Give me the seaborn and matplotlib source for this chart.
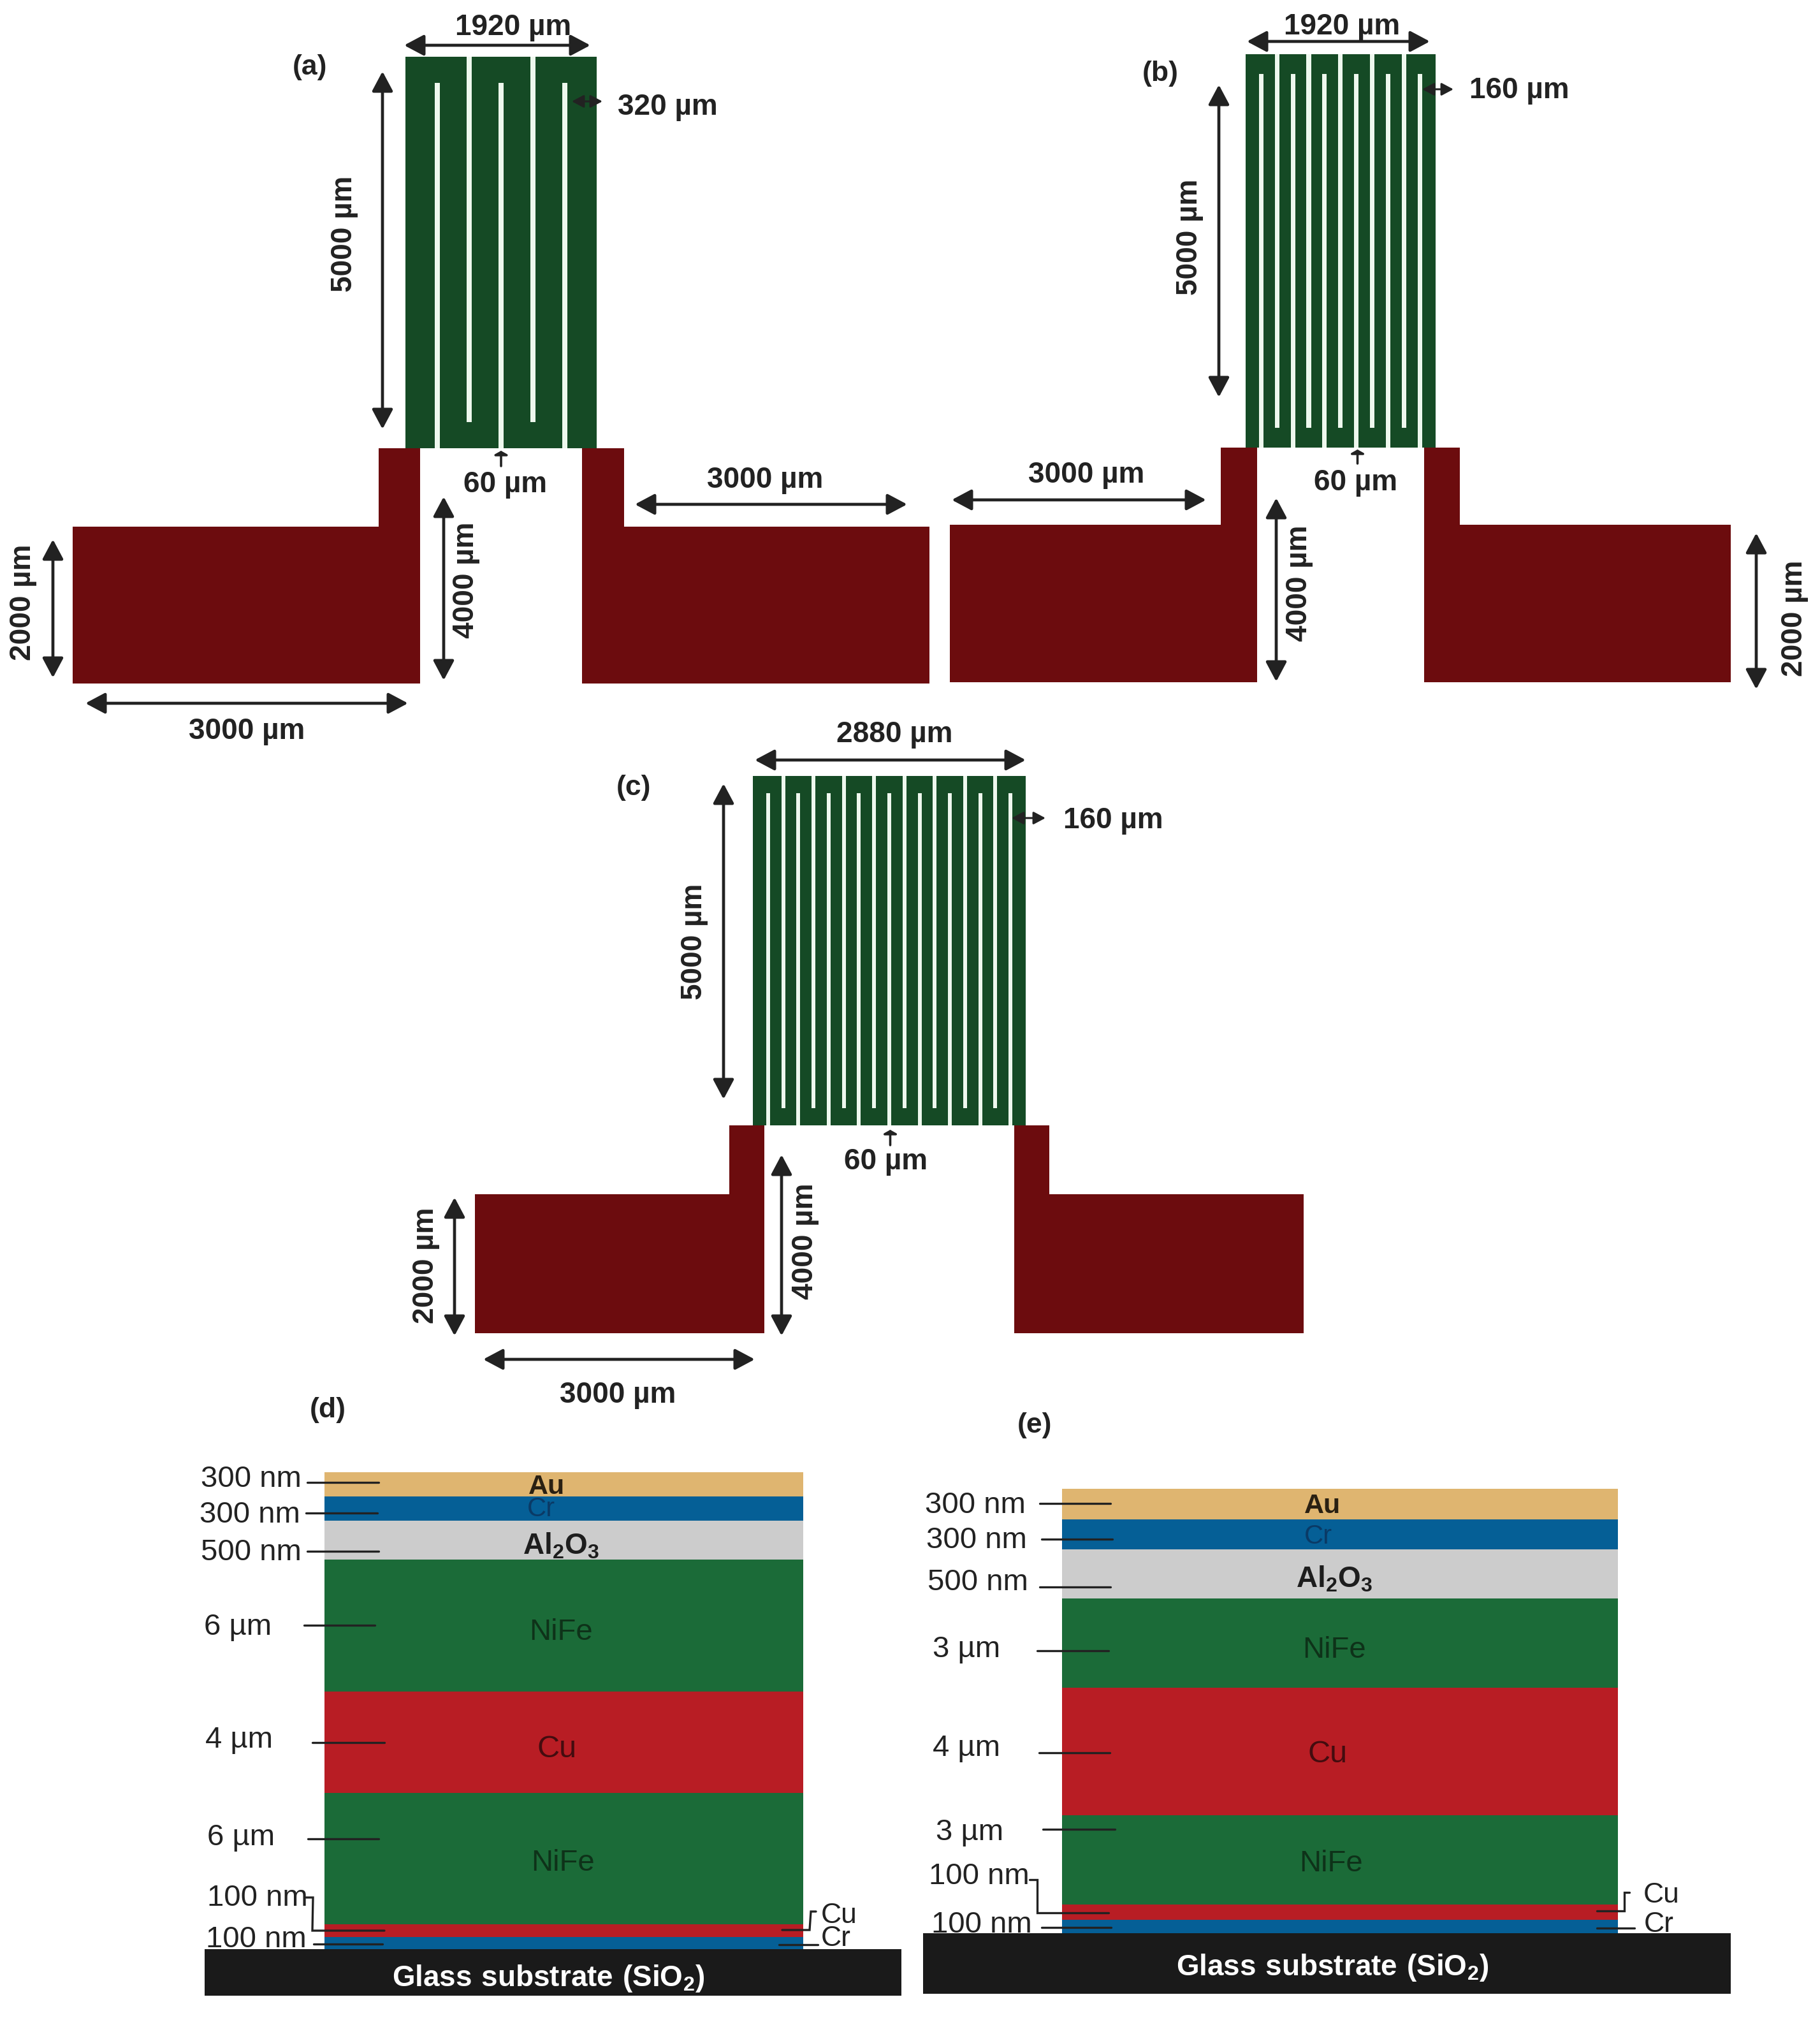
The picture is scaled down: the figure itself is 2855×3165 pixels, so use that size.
"""Meander inductor layouts (a-c) and their layer stacks (d, e)."""

import matplotlib
matplotlib.use("Agg")
import matplotlib.pyplot as plt
from matplotlib.patches import Rectangle
import seaborn as sns

W_PX, H_PX = 2855, 3165
DPI = 100

GREEN = "#154a25"
SLOT = "#eef8ee"
PAD_RED = "#6c0c0e"
INK = "#222222"

# --- data -----------------------------------------------------------------
# meander panels, in micrometres
PANEL_NAMES = ["(a)", "(b)", "(c)"]
MEANDER_WIDTH = [1920, 1920, 2880]
MEANDER_HEIGHT = [5000, 5000, 5000]
TRACE_PITCH = [320, 160, 160]
SLOT_WIDTH = [50, 46, 40]
TURN_MARGIN = [330, 250, 245]
PAD_OUTER = [3341, 2981, 2935]
NECK_OUTER = [272, 246, 246]
NECK_INNER = [150, 117, 123]
PAD_TOP = [-1002, -985, -985]
PAD_BOTTOM = [-3005, -2989, -2974]

# layer stacks, top to bottom; thickness is as drawn, not to scale
LAYER_COLORS = {
    "Au": "#dfb570",
    "Cr": "#055f96",
    "Al2O3": "#cccccc",
    "NiFe": "#1b6b38",
    "Cu": "#b81d24",
}
LAYERS = ["Au", "Cr", "Al2O3", "NiFe", "Cu", "NiFe", "Cu", "Cr"]
DRAWN_D = [38, 38, 61, 207, 159, 206, 19.5, 19.5]
DRAWN_E = [48.5, 46.5, 77.5, 140, 200, 140, 24, 21]
THICK_D = ["300 nm", "300 nm", "500 nm", "6 µm", "4 µm", "6 µm", "100 nm", "100 nm"]
THICK_E = ["300 nm", "300 nm", "500 nm", "3 µm", "4 µm", "3 µm", "100 nm", "100 nm"]

# --- layout, in reference pixels (x, y from top left) --------------------
MEANDER_BOX = [(636, 936, 89, 703), (1953.5, 2252, 85, 701.5), (1181, 1609, 1217, 1765)]
STACK_BOX = [(509, 1260, 2309, 3057), (1666, 2538, 2334.5, 3032)]
GLASS_BOX = [(321, 1414, 3057, 3130), (1448, 2715, 3032, 3127)]

# text, x, y, rotated
DIM_TEXTS = [
    ("1920 µm", 805, 43, False), ("5000 µm", 540, 367, True), ("60 µm", 793, 760, False),
    ("3000 µm", 387, 1147, False), ("2000 µm", 36, 945, True), ("4000 µm", 731, 910, True),
    ("3000 µm", 1200, 753, False),
    ("1920 µm", 2105, 42, False), ("5000 µm", 1866, 372, True), ("60 µm", 2127, 757, False),
    ("3000 µm", 1704, 745, False), ("4000 µm", 2038, 915, True), ("2000 µm", 2815, 970, True),
    ("2880 µm", 1403, 1152, False), ("5000 µm", 1089, 1477, True), ("60 µm", 1390, 1822, False),
    ("4000 µm", 1263, 1947, True), ("2000 µm", 668, 1985, True), ("3000 µm", 969, 2188, False),
]
PITCH_TEXTS = [("320 µm", 969, 168), ("160 µm", 2305, 142), ("160 µm", 1668, 1287)]
PITCH_ARROWS = [(897, 945, 159), (2231, 2280, 140), (1587, 1640, 1283)]
GAP_TICKS = [(786, 707, 731), (2129.5, 705, 727), (1396.5, 1772, 1796)]
PANEL_TEXT_XY = [(486, 105), (1820, 115), (994, 1235), (514, 2212), (1623, 2236)]

# x0, y0, x1, y1
BIG_ARROWS = [
    (634, 71, 926, 71), (600, 112, 600, 673), (134, 1103, 640, 1103), (83, 846, 83, 1063),
    (696, 779, 696, 1067), (996, 791, 1423, 791),
    (1956, 65, 2243, 65), (1912, 133, 1912, 623), (1493, 784, 1892, 784),
    (2002, 781, 2002, 1069), (2755, 836, 2755, 1081),
    (1184, 1192, 1609, 1192), (1135, 1229, 1135, 1724), (1226, 1811, 1226, 2095),
    (713, 1878, 713, 2095), (758, 2132, 1184, 2132),
]

THICK_XY_D = [(315, 2320), (313, 2376), (315, 2435), (320, 2552), (322, 2729), (325, 2882), (325, 2977), (323, 3042)]
THICK_XY_E = [(1451, 2361), (1453, 2416), (1455, 2482), (1463, 2587), (1463, 2742), (1468, 2874), (1457, 2943), (1461, 3019)]
LAYER_XY_D = [(858, 2332), (849, 2367), (880, 2425), (880, 2560), (874, 2743), (883, 2922)]
LAYER_XY_E = [(2075, 2362), (2068, 2410), (2093, 2477), (2093, 2588), (2083, 2752), (2088, 2923)]
LAYER_TEXT_COLORS = ["#2a2012", "#0a3a66", "#1d1d1d", "#0e3219", "#440c0f", "#0e3219"]
LEADERS = [
    [(482, 2325), (594, 2325)], [(480, 2373), (592, 2373)], [(482, 2433), (594, 2433)],
    [(477, 2549), (588, 2549)], [(490, 2733), (603, 2733)], [(483, 2884), (594, 2884)],
    [(480, 2976), (491, 2976), (490, 3028), (603, 3028)], [(492, 3049), (600, 3049)],
    [(1280, 2998), (1272, 2998), (1270, 3027), (1227, 3027)], [(1222, 3050), (1283, 3050)],
    [(1631, 2358), (1742, 2358)], [(1634, 2414), (1745, 2414)], [(1631, 2489), (1742, 2489)],
    [(1627, 2589), (1739, 2589)], [(1630, 2749), (1741, 2749)], [(1636, 2869), (1749, 2869)],
    [(1615, 2948), (1627, 2948), (1627, 3000), (1739, 3000)], [(1634, 3023), (1743, 3023)],
    [(2556, 2968), (2548, 2968), (2548, 2997), (2505, 2997)], [(2505, 3024), (2564, 3024)],
]
SIDE_TEXTS = [("Cu", 1288, 3004), ("Cr", 1288, 3040), ("Cu", 2578, 2972), ("Cr", 2579, 3019)]
GLASS_TEXT_XY = [(860, 3103), (2090, 3086)]


def box_axes(fig, left, right, top, bottom):
    """Axes covering a pixel box given from the top left of the figure."""
    return fig.add_axes(
        [left / W_PX, 1 - bottom / H_PX, (right - left) / W_PX, (bottom - top) / H_PX]
    )


def draw_meander(ax, i):
    width, height = MEANDER_WIDTH[i], MEANDER_HEIGHT[i]
    pitch, margin = TRACE_PITCH[i], TURN_MARGIN[i]
    ax.set_xlim(0, width)
    ax.set_ylim(0, height)
    ax.set_axis_off()

    ax.bar([width / 2], [height], width=width, color=GREEN, linewidth=0)
    centers = list(range(pitch, width, pitch))
    bottoms = [0 if k % 2 == 0 else margin for k in range(len(centers))]
    ax.bar(centers, [height - margin] * len(centers), bottom=bottoms,
           width=SLOT_WIDTH[i], color=SLOT, linewidth=0)

    outer, neck, inner = PAD_OUTER[i], NECK_OUTER[i], NECK_INNER[i]
    top, bottom = PAD_TOP[i], PAD_BOTTOM[i]
    ax.fill([-outer, -neck, -neck, inner, inner, -outer],
            [top, top, 0, 0, bottom, bottom], color=PAD_RED, linewidth=0, clip_on=False)
    ax.fill([width + outer, width + neck, width + neck, width - inner, width - inner, width + outer],
            [top, top, 0, 0, bottom, bottom], color=PAD_RED, linewidth=0, clip_on=False)


def draw_stack(ax, drawn):
    # cumulative bars, the tallest first, so each layer shows on top of the next
    tops = [sum(drawn[k:]) for k in range(len(drawn))]
    for layer, top in zip(LAYERS, tops):
        sns.barplot(x=[0], y=[top], color=LAYER_COLORS[layer], saturation=1, width=1,
                    linewidth=0, ax=ax)
    ax.set_xlim(-0.5, 0.5)
    ax.set_ylim(0, tops[0])
    ax.set_axis_off()


def arrow(ax, x0, y0, x1, y1, scale=20, lw=3.4, style="<|-|>,head_length=0.94,head_width=0.5"):
    ax.annotate("", xy=(x1, y1), xytext=(x0, y0),
                arrowprops=dict(arrowstyle=style, mutation_scale=scale, lw=lw, color=INK,
                                shrinkA=0, shrinkB=0), zorder=6)


sns.set_theme(style="white")
plt.rcParams["font.family"] = ["Liberation Sans", "DejaVu Sans"]
plt.rcParams["mathtext.fontset"] = "custom"
plt.rcParams["mathtext.rm"] = "Liberation Sans"
plt.rcParams["mathtext.bf"] = "Liberation Sans:bold"
plt.rcParams["mathtext.default"] = "regular"

fig = plt.figure(figsize=(W_PX / DPI, H_PX / DPI), dpi=DPI, facecolor="white")

for i in range(len(PANEL_NAMES)):
    left, right, top, bottom = MEANDER_BOX[i]
    draw_meander(box_axes(fig, left, right, top, bottom), i)

for (left, right, top, bottom), drawn in zip(STACK_BOX, [DRAWN_D, DRAWN_E]):
    draw_stack(box_axes(fig, left, right, top, bottom), drawn)

# annotation layer over everything, in reference pixels
over = fig.add_axes([0, 0, 1, 1])
over.set_xlim(0, W_PX)
over.set_ylim(H_PX, 0)
over.set_axis_off()
over.patch.set_alpha(0)

for x0, y0, x1, y1 in BIG_ARROWS:
    arrow(over, x0, y0, x1, y1)
for x0, x1, y in PITCH_ARROWS:
    arrow(over, x0, y, x1, y, scale=12, lw=2.2)
for x, y0, y1 in GAP_TICKS:
    arrow(over, x, y1, x, y0, scale=7, lw=2.6, style="-|>,head_length=0.5,head_width=0.9")

for text, x, y, rotated in DIM_TEXTS:
    over.text(x, y, text, fontsize=33, fontweight="bold", color=INK, ha="center", va="center",
              rotation=90 if rotated else 0)
for text, x, y in PITCH_TEXTS:
    over.text(x, y, text, fontsize=33, fontweight="bold", color=INK, ha="left", va="center")
for name, (x, y) in zip(PANEL_NAMES + ["(d)", "(e)"], PANEL_TEXT_XY):
    over.text(x, y, name, fontsize=32, fontweight="bold", color=INK, ha="center", va="center")

for labels, places in [(THICK_D, THICK_XY_D), (THICK_E, THICK_XY_E)]:
    for text, (x, y) in zip(labels, places):
        over.text(x, y, text, fontsize=34, color=INK, ha="left", va="center", zorder=3)
for points in LEADERS:
    over.plot([p[0] for p in points], [p[1] for p in points], color=INK, lw=2.4, zorder=4,
              solid_joinstyle="miter")
for text, x, y in SIDE_TEXTS:
    over.text(x, y, text, fontsize=32, color=INK, ha="left", va="center", zorder=3)

for places in [LAYER_XY_D, LAYER_XY_E]:
    for layer, (x, y), color in zip(LAYERS, places, LAYER_TEXT_COLORS):
        if layer == "Al2O3":
            over.text(x, y, r"$\mathbf{Al_2O_3}$", fontsize=33, color=color, ha="center", va="center", zorder=5)
        else:
            size = {"Au": 31, "Cr": 30, "Cu": 35}.get(layer, 34)
            weight = "bold" if layer == "Au" else "normal"
            over.text(x, y, layer, fontsize=size, color=color, ha="center", va="center",
                      fontweight=weight, zorder=5)

for (left, right, top, bottom), (x, y) in zip(GLASS_BOX, GLASS_TEXT_XY):
    over.add_patch(Rectangle((left, top), right - left, bottom - top, color="#1a1a1a", lw=0, zorder=5))
    over.text(x, y, r"$\mathbf{Glass\ substrate\ (SiO_2)}$", fontsize=33, color="white",
              ha="center", va="center", zorder=7)

fig.savefig("out.png", dpi=DPI, facecolor="white")
